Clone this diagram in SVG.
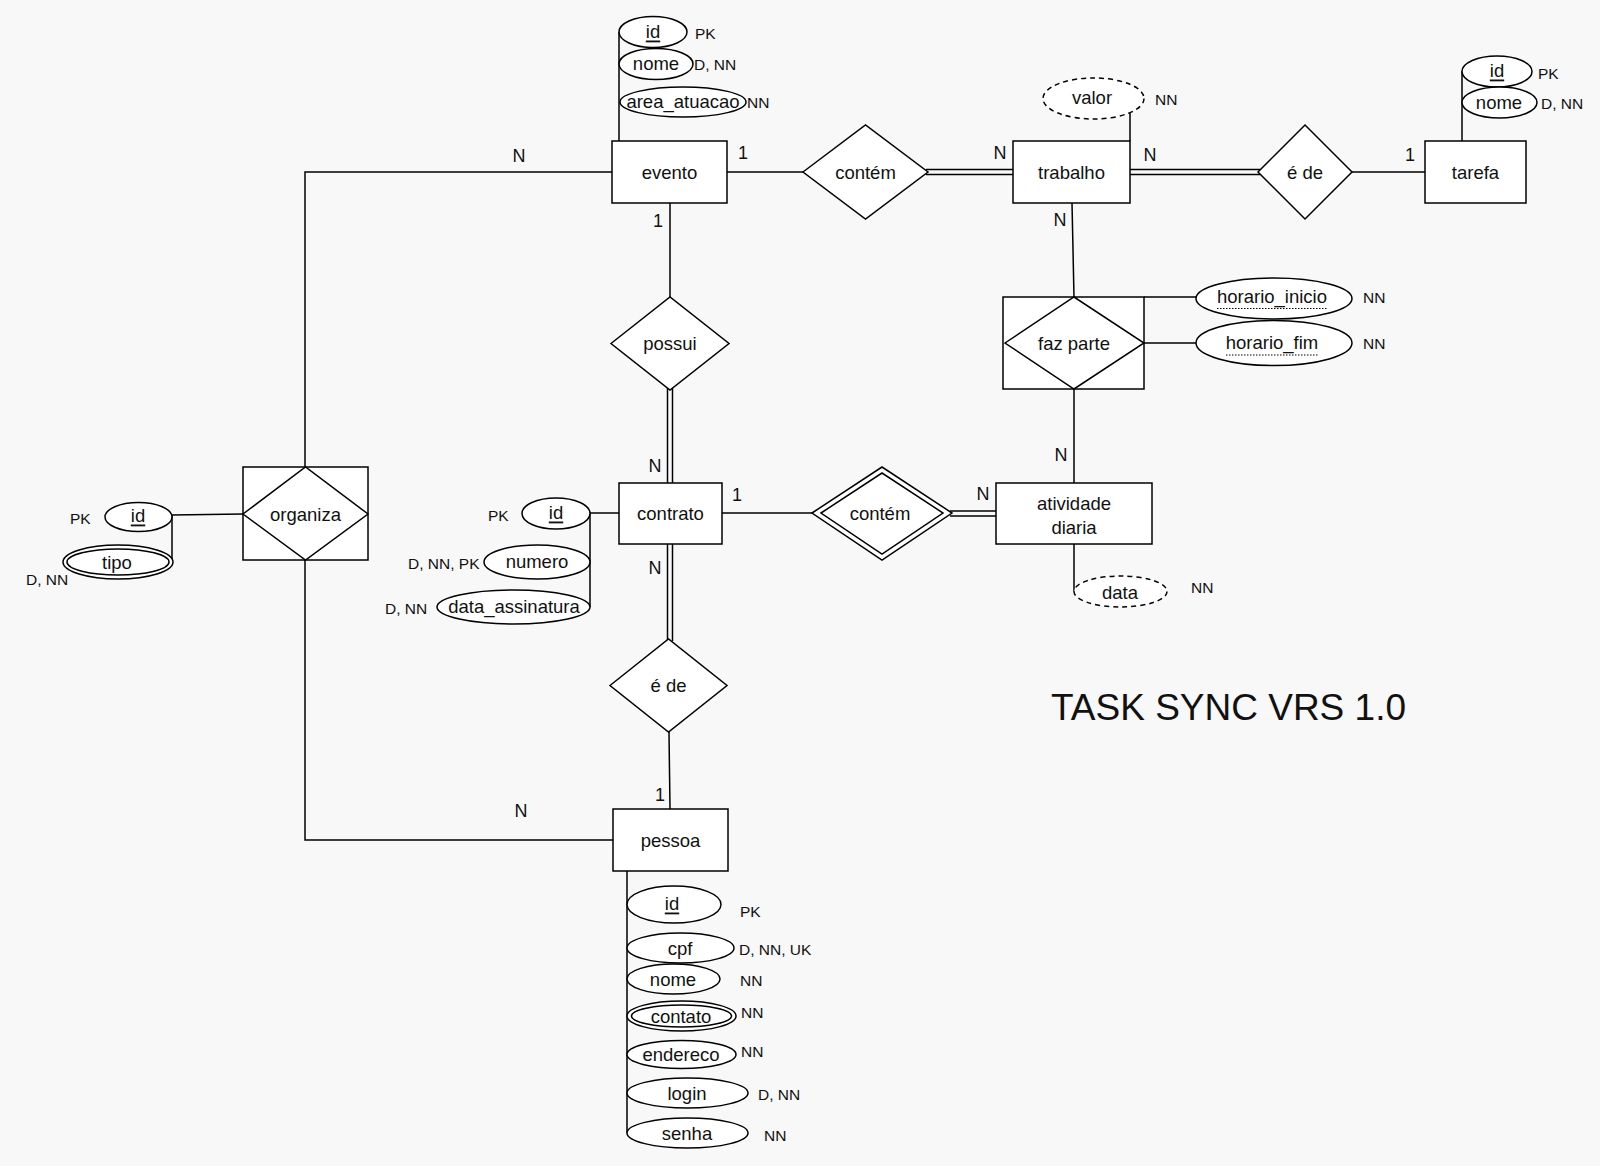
<svg xmlns="http://www.w3.org/2000/svg" width="1600" height="1166" viewBox="0 0 1600 1166">
<style>
.bg{fill:#f8f8f8}
.s{fill:#ffffff;stroke:#000;stroke-width:1.5}
.l{fill:none;stroke:#000;stroke-width:1.5}
.d{fill:#ffffff;stroke:#000;stroke-width:1.5;stroke-dasharray:5,4}
.t{font-family:"Liberation Sans",Arial,sans-serif;font-size:18.5px;fill:#111;text-anchor:middle;dominant-baseline:central}
.c{font-family:"Liberation Sans",Arial,sans-serif;font-size:18px;fill:#111;text-anchor:middle;dominant-baseline:central}
.k{font-family:"Liberation Sans",Arial,sans-serif;font-size:15.5px;fill:#111;dominant-baseline:central}
.u{text-decoration:underline}
.dot{fill:none;stroke:#000;stroke-width:1;stroke-dasharray:1.5,1.5}
</style>
<rect class="bg" x="0" y="0" width="1600" height="1166"/>

<g id="connectors">
  <!-- evento - organiza - pessoa -->
  <polyline class="l" points="612,172 305,172 305,467"/>
  <polyline class="l" points="305,560 305,840 613,840"/>
  <!-- evento - contém -->
  <line class="l" x1="727" y1="172" x2="803" y2="172"/>
  <!-- contém = trabalho -->
  <line class="l" x1="926" y1="169.5" x2="1013" y2="169.5"/>
  <line class="l" x1="926" y1="174.5" x2="1013" y2="174.5"/>
  <!-- trabalho = é de -->
  <line class="l" x1="1130" y1="169.5" x2="1260" y2="169.5"/>
  <line class="l" x1="1130" y1="174.5" x2="1260" y2="174.5"/>
  <!-- é de - tarefa -->
  <line class="l" x1="1352" y1="172" x2="1425" y2="172"/>
  <!-- evento - possui -->
  <line class="l" x1="670" y1="203" x2="670" y2="297"/>
  <!-- possui = contrato -->
  <line class="l" x1="667.5" y1="388" x2="667.5" y2="483"/>
  <line class="l" x1="672.5" y1="388" x2="672.5" y2="483"/>
  <!-- contrato = é de -->
  <line class="l" x1="667.5" y1="544" x2="667.5" y2="641"/>
  <line class="l" x1="672.5" y1="544" x2="672.5" y2="641"/>
  <!-- é de - pessoa -->
  <line class="l" x1="669" y1="732" x2="670" y2="809"/>
  <!-- contrato - contém (weak) -->
  <line class="l" x1="722" y1="513" x2="812" y2="513"/>
  <!-- contém (weak) = atividade -->
  <line class="l" x1="950" y1="511" x2="996" y2="511"/>
  <line class="l" x1="950" y1="516" x2="996" y2="516"/>
  <!-- trabalho - faz parte - atividade -->
  <line class="l" x1="1072" y1="203" x2="1074" y2="297"/>
  <line class="l" x1="1074" y1="389" x2="1074" y2="483"/>
  <!-- attribute lines -->
  <line class="l" x1="619" y1="32" x2="619" y2="141"/>
  <line class="l" x1="1130" y1="112" x2="1130" y2="141"/>
  <line class="l" x1="1462" y1="71" x2="1462" y2="141"/>
  <line class="l" x1="1144" y1="297" x2="1196" y2="297"/>
  <line class="l" x1="1144" y1="343" x2="1196" y2="343"/>
  <line class="l" x1="1074" y1="544" x2="1074" y2="591"/>
  <line class="l" x1="172" y1="515" x2="243" y2="514"/>
  <line class="l" x1="172" y1="515" x2="172" y2="562"/>
  <line class="l" x1="590" y1="513" x2="619" y2="513"/>
  <line class="l" x1="590" y1="513" x2="590" y2="607"/>
  <line class="l" x1="627" y1="871" x2="627" y2="1133"/>
</g>

<g id="cardinalities">
  <text class="c" x="519" y="156">N</text>
  <text class="c" x="743" y="153">1</text>
  <text class="c" x="658" y="221">1</text>
  <text class="c" x="1000" y="153">N</text>
  <text class="c" x="1150" y="155">N</text>
  <text class="c" x="1410" y="155">1</text>
  <text class="c" x="1060" y="220">N</text>
  <text class="c" x="1061" y="455">N</text>
  <text class="c" x="655" y="466">N</text>
  <text class="c" x="737" y="495">1</text>
  <text class="c" x="983" y="494">N</text>
  <text class="c" x="655" y="568">N</text>
  <text class="c" x="660" y="795">1</text>
  <text class="c" x="521" y="811">N</text>
</g>

<g id="evento">
  <ellipse class="s" cx="653" cy="32" rx="34" ry="15.5"/>
  <text class="t u" x="653" y="31">id</text>
  <text class="k" x="695" y="33">PK</text>
  <ellipse class="s" cx="656" cy="64" rx="37" ry="15.5"/>
  <text class="t" x="656" y="63">nome</text>
  <text class="k" x="694" y="64">D, NN</text>
  <ellipse class="s" cx="683" cy="102" rx="63" ry="15"/>
  <text class="t" x="683" y="101">area_atuacao</text>
  <text class="k" x="747" y="102">NN</text>
  <rect class="s" x="612" y="141" width="115" height="62"/>
  <text class="t" x="669.5" y="172">evento</text>
</g>

<g id="contem1">
  <polygon class="s" points="803,172 865.5,125 928,172 865.5,219"/>
  <text class="t" x="865.5" y="172">contém</text>
</g>

<g id="trabalho">
  <ellipse class="d" cx="1093.5" cy="98.5" rx="50.5" ry="20.5"/>
  <text class="t" x="1092" y="97">valor</text>
  <text class="k" x="1155" y="99">NN</text>
  <rect class="s" x="1013" y="141" width="117" height="62"/>
  <text class="t" x="1071.5" y="172">trabalho</text>
</g>

<g id="ede1">
  <polygon class="s" points="1258,172 1305,125 1352,172 1305,219"/>
  <text class="t" x="1305" y="172">é de</text>
</g>

<g id="tarefa">
  <ellipse class="s" cx="1497" cy="71.5" rx="35" ry="15.5"/>
  <text class="t u" x="1497" y="70">id</text>
  <text class="k" x="1538" y="73">PK</text>
  <ellipse class="s" cx="1499.5" cy="102.5" rx="37.5" ry="15.5"/>
  <text class="t" x="1499" y="102">nome</text>
  <text class="k" x="1541" y="103">D, NN</text>
  <rect class="s" x="1425" y="141" width="101" height="62"/>
  <text class="t" x="1475.5" y="172">tarefa</text>
</g>

<g id="possui">
  <polygon class="s" points="611,343.5 670,297 729,343.5 670,390"/>
  <text class="t" x="670" y="343">possui</text>
</g>

<g id="fazparte">
  <rect class="s" x="1003" y="297" width="141" height="92"/>
  <polygon class="s" points="1005,343 1074,297 1144,343 1074,389"/>
  <text class="t" x="1074" y="343">faz parte</text>
  <ellipse class="s" cx="1274" cy="298.5" rx="78" ry="20.5"/>
  <text class="t" x="1272" y="296">horario_inicio</text>
  <line class="dot" x1="1217" y1="308.5" x2="1327" y2="308.5"/>
  <text class="k" x="1363" y="297">NN</text>
  <ellipse class="s" cx="1274" cy="343" rx="78" ry="22.5"/>
  <text class="t" x="1272" y="342">horario_fim</text>
  <line class="dot" x1="1226" y1="355" x2="1318" y2="355"/>
  <text class="k" x="1363" y="343">NN</text>
</g>

<g id="organiza">
  <rect class="s" x="243" y="467" width="125" height="93"/>
  <polygon class="s" points="243,514 305.5,467 368,514 305.5,560"/>
  <text class="t" x="305.5" y="514">organiza</text>
  <ellipse class="s" cx="138.5" cy="517" rx="33.5" ry="14.5"/>
  <text class="t u" x="138" y="515">id</text>
  <text class="k" x="70" y="518">PK</text>
  <ellipse class="s" cx="118" cy="562" rx="55" ry="17"/>
  <ellipse class="l" cx="118" cy="562" rx="51" ry="13"/>
  <text class="t" x="117" y="562">tipo</text>
  <text class="k" x="26" y="579">D, NN</text>
</g>

<g id="contrato">
  <rect class="s" x="619" y="483" width="103" height="61"/>
  <text class="t" x="670.5" y="513">contrato</text>
  <ellipse class="s" cx="556" cy="513.5" rx="34" ry="15.5"/>
  <text class="t u" x="556" y="512">id</text>
  <text class="k" x="488" y="515">PK</text>
  <ellipse class="s" cx="537" cy="562" rx="53" ry="17"/>
  <text class="t" x="537" y="561">numero</text>
  <text class="k" x="408" y="563">D, NN, PK</text>
  <ellipse class="s" cx="513.5" cy="607" rx="76.5" ry="17"/>
  <text class="t" x="514" y="606">data_assinatura</text>
  <text class="k" x="385" y="608">D, NN</text>
</g>

<g id="contem2">
  <polygon class="s" points="812,513 882,467 952,513 882,560"/>
  <polygon class="l" points="821,513 882,473 943,513 882,554"/>
  <text class="t" x="880" y="513">contém</text>
</g>

<g id="atividade">
  <rect class="s" x="996" y="483" width="156" height="61"/>
  <text class="t" x="1074" y="503">atividade</text>
  <text class="t" x="1074" y="527">diaria</text>
  <ellipse class="d" cx="1120.5" cy="591.5" rx="46.5" ry="15.5"/>
  <text class="t" x="1120" y="592">data</text>
  <text class="k" x="1191" y="587">NN</text>
</g>

<g id="ede2">
  <polygon class="s" points="610,685.5 668.5,639 727,685.5 668.5,732"/>
  <text class="t" x="668.5" y="685">é de</text>
</g>

<g id="pessoa">
  <rect class="s" x="613" y="809" width="115" height="62"/>
  <text class="t" x="670.5" y="840">pessoa</text>
  <ellipse class="s" cx="674" cy="904.5" rx="47" ry="18.5"/>
  <text class="t u" x="672" y="903">id</text>
  <text class="k" x="740" y="911">PK</text>
  <ellipse class="s" cx="680.5" cy="948" rx="53.5" ry="15"/>
  <text class="t" x="680" y="948">cpf</text>
  <text class="k" x="739" y="949">D, NN, UK</text>
  <ellipse class="s" cx="673.5" cy="979" rx="46.5" ry="15"/>
  <text class="t" x="673" y="979">nome</text>
  <text class="k" x="740" y="980">NN</text>
  <ellipse class="s" cx="681.5" cy="1016" rx="54.5" ry="15"/>
  <ellipse class="l" cx="681.5" cy="1016" rx="50" ry="11"/>
  <text class="t" x="681" y="1016">contato</text>
  <text class="k" x="741" y="1012">NN</text>
  <ellipse class="s" cx="681.5" cy="1054.5" rx="54.5" ry="14"/>
  <text class="t" x="681" y="1054">endereco</text>
  <text class="k" x="741" y="1051">NN</text>
  <ellipse class="s" cx="687.5" cy="1093" rx="60.5" ry="15"/>
  <text class="t" x="687" y="1093">login</text>
  <text class="k" x="758" y="1094">D, NN</text>
  <ellipse class="s" cx="687.5" cy="1133" rx="60.5" ry="15"/>
  <text class="t" x="687" y="1133">senha</text>
  <text class="k" x="764" y="1135">NN</text>
</g>

<g id="title">
  <text x="1051" y="720" font-family="Liberation Sans, Arial, sans-serif" font-size="37" fill="#111" textLength="355" lengthAdjust="spacingAndGlyphs">TASK SYNC VRS 1.0</text>
</g>
</svg>
